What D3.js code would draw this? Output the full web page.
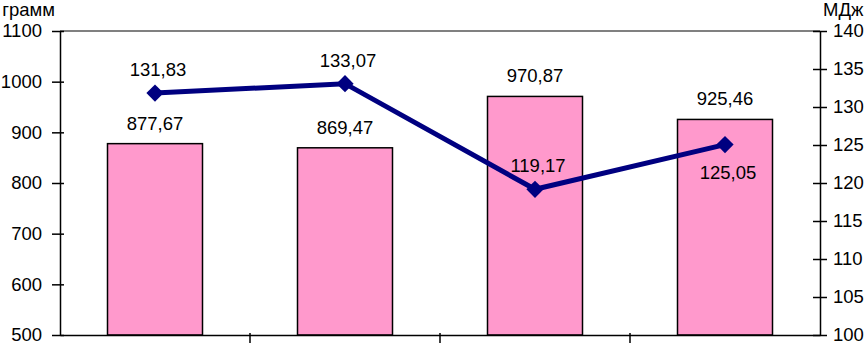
<!DOCTYPE html>
<html>
<head>
<meta charset="utf-8">
<script src="https://cdn.jsdelivr.net/npm/d3@7"></script>
<style>
  body { margin: 0; background: #fff; }
  #graf text { font-family: 'Liberation Sans', Arial, sans-serif; fill: #000; }
</style>
</head>
<body>
<div id="graf"></div>
<script>
// datos
const categorias = ['A', 'B', 'C', 'D']
const gramos = [877.67, 869.47, 970.87, 925.46]
const energia = [131.83, 133.07, 119.17, 125.05]
const ticksIzq = [500, 600, 700, 800, 900, 1000, 1100]
const ticksDer = [100, 105, 110, 115, 120, 125, 130, 135, 140]
// etiquetas de la línea: arriba o abajo del punto
const posEtiqueta = ['arriba', 'arriba', 'arriba', 'abajo']

const anchoTotal = 867
const altoTotal = 343
const margin = { top: 31, bottom: 8, left: 60, right: 47 }
const ancho = anchoTotal - margin.left - margin.right
const alto = altoTotal - margin.top - margin.bottom

const svg = d3.select('#graf')
  .append('svg')
  .attr('width', anchoTotal)
  .attr('height', altoTotal)

const g = svg.append('g')
  .attr('transform', `translate(${margin.left}, ${margin.top})`)

const x = d3.scaleBand()
  .domain(categorias)
  .range([0, ancho])
  .paddingInner(0.5)
  .paddingOuter(0.25)

const xPaso = d3.scaleBand().domain(categorias).range([0, ancho])

const y = d3.scaleLinear().domain([500, 1100]).range([alto, 0])
const y2 = d3.scaleLinear().domain([100, 140]).range([alto, 0])

// borde superior
g.append('line')
  .attr('x1', 0).attr('x2', ancho)
  .attr('y1', 0).attr('y2', 0)
  .attr('stroke', '#808080')
  .attr('stroke-width', 2)

// barras
g.selectAll('rect.barra')
  .data(gramos)
  .enter()
  .append('rect')
  .attr('class', 'barra')
  .attr('x', (d, i) => x(categorias[i]))
  .attr('y', d => y(d))
  .attr('width', x.bandwidth())
  .attr('height', d => alto - y(d))
  .attr('fill', '#ff99cc')
  .attr('stroke', '#000')
  .attr('stroke-width', 1.5)

g.selectAll('text.lblBarra')
  .data(gramos)
  .enter()
  .append('text')
  .attr('class', 'lblBarra')
  .attr('x', (d, i) => x(categorias[i]) + x.bandwidth() / 2)
  .attr('y', d => y(d) - 14)
  .attr('text-anchor', 'middle')
  .style('font-size', '18.5px')
  .text(d => d3.format('.2f')(d).replace('.', ','))

// ejes
const ejeIzq = g.append('g')
  .call(d3.axisLeft(y).tickValues(ticksIzq).tickFormat(d3.format('d'))
    .tickSizeInner(8).tickSizeOuter(0).tickPadding(10))
ejeIzq.selectAll('.tick line').attr('x2', -8).attr('x1', 4)
const ejeDer = g.append('g')
  .attr('transform', `translate(${ancho}, 0)`)
  .call(d3.axisRight(y2).tickValues(ticksDer).tickFormat(d3.format('d'))
    .tickSizeInner(8).tickSizeOuter(0).tickPadding(5))
ejeDer.selectAll('.tick line').attr('x1', -7).attr('x2', 7)

const ejeX = g.append('g')
  .attr('transform', `translate(0, ${alto})`)
  .call(d3.axisBottom(xPaso).tickSizeOuter(0).tickFormat(''))
ejeX.selectAll('.tick').attr('transform', d => `translate(${xPaso(d)}, 0)`)
ejeX.selectAll('.tick').filter((d, i) => i === 0).remove()
ejeX.selectAll('.tick line').attr('y1', -2).attr('y2', 8)

;[ejeIzq, ejeDer, ejeX].forEach(e => {
  e.selectAll('path, line').attr('stroke', '#000').attr('stroke-width', 1.5)
  e.selectAll('text').style('font-size', '18.5px').attr('fill', '#000')
})

// línea
const cx = i => x(categorias[i]) + x.bandwidth() / 2
const linea = d3.line()
  .x((d, i) => cx(i))
  .y(d => y2(d))

g.append('path')
  .datum(energia)
  .attr('d', linea)
  .attr('fill', 'none')
  .attr('stroke', '#000080')
  .attr('stroke-width', 5)

g.selectAll('path.marca')
  .data(energia)
  .enter()
  .append('path')
  .attr('class', 'marca')
  .attr('d', d3.symbol(d3.symbolDiamond2, 190))
  .attr('transform', (d, i) => `translate(${cx(i)}, ${y2(d)})`)
  .attr('fill', '#000080')

g.selectAll('text.lblLinea')
  .data(energia)
  .enter()
  .append('text')
  .attr('class', 'lblLinea')
  .attr('x', (d, i) => cx(i) + 3)
  .attr('y', (d, i) => posEtiqueta[i] === 'arriba' ? y2(d) - 17 : y2(d) + 34)
  .attr('text-anchor', 'middle')
  .style('font-size', '18.5px')
  .text(d => d3.format('.2f')(d).replace('.', ','))

// títulos de ejes
svg.append('text')
  .attr('x', 55).attr('y', 16)
  .attr('text-anchor', 'end')
  .style('font-size', '18.5px')
  .text('грамм')
svg.append('text')
  .attr('x', 823).attr('y', 16)
  .style('font-size', '18.5px')
  .text('МДж')
</script>
</body>
</html>
